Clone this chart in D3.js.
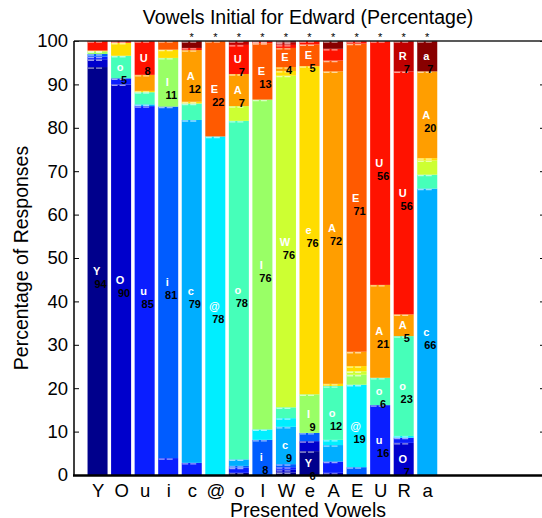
<!DOCTYPE html>
<html><head><meta charset="utf-8">
<script src="https://cdn.jsdelivr.net/npm/d3@7"></script>
<style>
body{margin:0;background:#fff}
svg{display:block}
text{font-family:"Liberation Sans",Arial,Helvetica,sans-serif}
</style>
</head><body>
<svg id="c" width="542" height="518"></svg>
<script>
// Presented vowels (bars) and response categories (stack order, bottom to top)
const presented = ["Y","O","u","i","c","@","o","I","W","e","A","E","U","R","a"];
const responses = ["Y","O","u","i","c","@","o","I","W","e","A","E","U","R","a"];
const colors = ["#00008C","#0000CC","#0A1EFF","#005CFF","#00AEFF","#00EEFF","#46FFB9","#99FF66","#CDFF32","#FFDD00","#FF9E00","#FF5A00","#FF1200","#C00000","#880000"];
const yTicks = [0,10,20,30,40,50,60,70,80,90,100];
const starred = ["c","@","o","I","W","e","A","E","U","R","a"];

// Percentage of each response, one array per response, across presented vowels
const resp_Y = [94, 0, 0, 0, 0, 0, 0.5, 0, 0.6, 5.5, 0, 0, 0, 0, 0];
const resp_O = [1.8, 90, 0, 0, 0, 0, 0, 0, 0.6, 2.3, 0.5, 0, 0, 7.4, 0];
const resp_u = [0.6, 1.4, 85, 3.9, 2.8, 0, 1.2, 0, 0.6, 0, 2.6, 0, 16.1, 1.2, 0];
const resp_i = [0.6, 0, 0, 81, 0, 0, 0.4, 8.1, 0.7, 1.9, 0, 1.8, 0, 0, 0];
const resp_c = [0, 0, 0.4, 0, 79, 0, 1.5, 0, 8.6, 0, 3.8, 0, 0, 0, 66];
const resp_at = [0, 0, 0, 0, 0, 78, 0, 2.4, 2, 0, 1.2, 19, 0, 0.4, 0];
const resp_o = [0, 5.2, 2.8, 0, 3.8, 0, 78, 0, 2.5, 0, 12.4, 0, 6.3, 23, 3.2];
const resp_I = [0.6, 0, 0, 11.2, 0, 0, 0, 76, 0, 8.9, 0, 2.3, 0, 0, 0];
const resp_W = [0, 0, 0, 0, 0, 0, 3.4, 0, 76.4, 0, 0, 0.8, 0, 0, 3.3];
const resp_e = [0.2, 3, 0.3, 1.9, 0.4, 0, 0, 0, 1.1, 75.6, 0.5, 1.2, 0, 0, 0.5];
const resp_A = [0, 0, 3.7, 0, 11.9, 0, 7.4, 0, 0.9, 0, 72, 3.3, 21.4, 5, 20];
const resp_E = [0, 0, 0, 2, 0, 22, 0, 13, 4.4, 5, 2.5, 71, 0, 0, 0];
const resp_U = [2.2, 0.4, 7.8, 0, 0.5, 0, 6.7, 0.3, 0.7, 0.8, 2.7, 0.6, 56.2, 56, 0];
const resp_R = [0, 0, 0, 0, 0, 0, 0.9, 0.2, 0.5, 0, 0, 0, 0, 7, 0];
const resp_a = [0, 0, 0, 0, 1.6, 0, 0, 0, 0.4, 0, 1.8, 0, 0, 0, 7];

const seriesByResp = {Y:resp_Y,O:resp_O,u:resp_u,i:resp_i,c:resp_c,"@":resp_at,o:resp_o,I:resp_I,W:resp_W,e:resp_e,A:resp_A,E:resp_E,U:resp_U,R:resp_R,a:resp_a};

const svg = d3.select("#c");
const x = d3.scaleLinear().domain([0,20]).range([74,545]);
const y = d3.scaleLinear().domain([0,100]).range([475,41]);
const color = d3.scaleOrdinal().domain(responses).range(colors);
const barW = x(0.85) - x(0);

const table = presented.map((p,i)=>{const row={vowel:p,idx:i+1}; responses.forEach(r=>row[r]=seriesByResp[r][i]); return row;});
const stacked = d3.stack().keys(responses)(table);

const gBars = svg.append("g");
stacked.forEach(layer=>{
  const key = layer.key;
  layer.forEach(d=>{
    if (d[1]-d[0] <= 0) return;
    const cx = x(d.data.idx);
    gBars.append("rect")
      .attr("x", cx - barW/2).attr("width", barW)
      .attr("y", y(d[1])).attr("height", y(d[0]) - y(d[1]))
      .attr("fill", color(key));
  });
});
// boundary dashes
const gDash = svg.append("g");
stacked.forEach(layer=>{
  layer.forEach(d=>{
    if (d[1]-d[0] <= 0) return;
    const cx = x(d.data.idx);
    gDash.append("line")
      .attr("x1", cx - barW/2 + 0.5).attr("x2", cx - barW/2 + 14.5)
      .attr("y1", y(d[1]) + 1).attr("y2", y(d[1]) + 1)
      .attr("stroke", "rgba(255,255,255,0.6)").attr("stroke-width", 1.3)
      .attr("stroke-dasharray", "6,2");
  });
});
// labels
const gLab = svg.append("g");
stacked.forEach(layer=>{
  const key = layer.key;
  layer.forEach(d=>{
    const v = d[1]-d[0];
    if (v < 4) return;
    const cx = x(d.data.idx);
    const my = y((d[0]+d[1])/2);
    gLab.append("text").attr("x", cx - 1).attr("y", my + 4)
      .attr("text-anchor","middle").attr("font-size","11px").attr("font-weight","bold")
      .attr("fill","#fff").text(key);
    gLab.append("text").attr("x", cx + 3).attr("y", my + 17)
      .attr("text-anchor","middle").attr("font-size","11px").attr("font-weight","bold")
      .attr("fill","#000").text(Math.round(v));
  });
});
// stars
svg.append("g").selectAll("text").data(starred).join("text")
  .attr("x", d=>x(presented.indexOf(d)+1)).attr("y", 41)
  .attr("text-anchor","middle").attr("font-size","11px").text("*");

// axes
const yAxis = d3.axisLeft(y).tickValues(yTicks).tickSize(-5).tickPadding(6);
const gy = svg.append("g").attr("transform","translate(74,0)").call(yAxis);
gy.select(".domain").remove();
gy.selectAll("text").attr("font-size","18.5px").attr("font-family","Liberation Sans, Arial, sans-serif");
const yAxisR = d3.axisRight(y).tickValues(yTicks).tickSize(-5).tickFormat("");
const gyr = svg.append("g").attr("transform","translate(545,0)").call(yAxisR);
gyr.select(".domain").remove();

const xAxis = d3.axisBottom(x).tickValues(d3.range(1,16)).tickFormat(d=>presented[d-1]).tickSize(0).tickPadding(9);
const gx = svg.append("g").attr("transform","translate(0,475)").call(xAxis);
gx.select(".domain").remove();
gx.selectAll("text").attr("font-size","18.5px").attr("font-family","Liberation Sans, Arial, sans-serif");

// frame
svg.append("line").attr("x1",74).attr("x2",545).attr("y1",41).attr("y2",41).attr("stroke","#222").attr("stroke-width",1.5);
svg.append("line").attr("x1",74).attr("x2",74).attr("y1",41).attr("y2",475).attr("stroke","#000").attr("stroke-width",1.5);
svg.append("line").attr("x1",73).attr("x2",545).attr("y1",475.5).attr("y2",475.5).attr("stroke","#000").attr("stroke-width",2.5);

// titles
svg.append("text").attr("x",308).attr("y",24).attr("text-anchor","middle").attr("font-size","19.5px").text("Vowels Initial for Edward (Percentage)");
svg.append("text").attr("transform","translate(28,258) rotate(-90)").attr("text-anchor","middle").attr("font-size","19.5px").text("Percentage of Responses");
svg.append("text").attr("x",308).attr("y",517).attr("text-anchor","middle").attr("font-size","19.5px").text("Presented Vowels");
</script>
</body></html>
